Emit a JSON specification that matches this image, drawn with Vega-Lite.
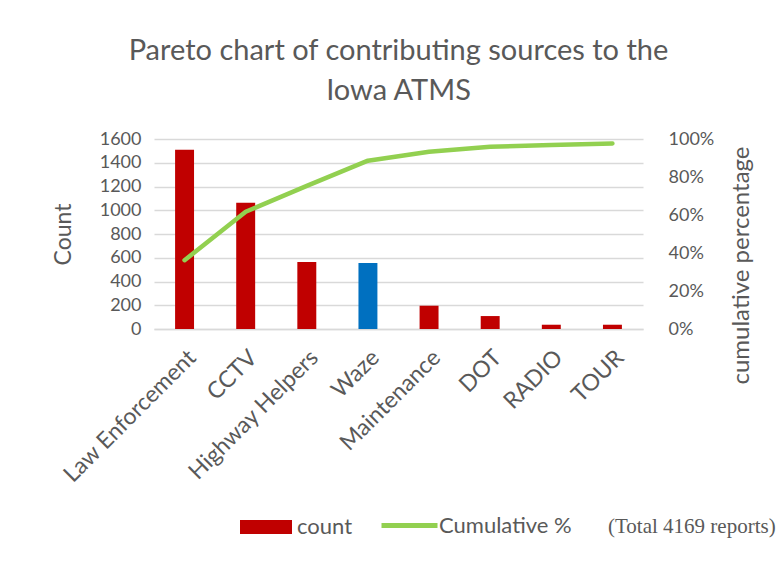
{
  "$schema": "https://vega.github.io/schema/vega-lite/v6.json",
  "width": 489,
  "height": 190,
  "autosize": {"type": "none"},
  "padding": {"left": 154, "top": 139, "right": 141, "bottom": 232},
  "background": "white",
  "title": {
    "text": ["Pareto chart of contributing sources to the", "Iowa ATMS"],
    "font": "Lato",
    "fontSize": 29,
    "fontWeight": "normal",
    "color": "#595959",
    "lineHeight": 40,
    "anchor": "middle",
    "offset": 24
  },
  "data": {
    "values": [
      {"source": "Law Enforcement", "count": 1510, "cum": 0.362, "series": "count", "line": "Cumulative %"},
      {"source": "CCTV", "count": 1064, "cum": 0.617, "series": "count", "line": "Cumulative %"},
      {"source": "Highway Helpers", "count": 564, "cum": 0.753, "series": "count", "line": "Cumulative %"},
      {"source": "Waze", "count": 556, "cum": 0.886, "series": "count", "line": "Cumulative %"},
      {"source": "Maintenance", "count": 196, "cum": 0.933, "series": "count", "line": "Cumulative %"},
      {"source": "DOT", "count": 109, "cum": 0.959, "series": "count", "line": "Cumulative %"},
      {"source": "RADIO", "count": 36, "cum": 0.968, "series": "count", "line": "Cumulative %"},
      {"source": "TOUR", "count": 36, "cum": 0.976, "series": "count", "line": "Cumulative %"}
    ]
  },
  "encoding": {
    "x": {
      "field": "source",
      "type": "nominal",
      "sort": null,
      "scale": {"paddingInner": 0.69, "paddingOuter": 0.345},
      "axis": {
        "title": null,
        "labelAngle": -45,
        "labelAlign": "right",
        "labelBaseline": "top",
        "labelPadding": 17,
        "labelFont": "Lato",
        "labelFontSize": 23,
        "labelColor": "#595959",
        "ticks": false,
        "domainColor": "#D9D9D9",
        "domainWidth": 1.5
      }
    }
  },
  "layer": [
    {
      "mark": {"type": "bar"},
      "encoding": {
        "y": {
          "field": "count",
          "type": "quantitative",
          "scale": {"domain": [0, 1600], "nice": false},
          "axis": {
            "title": "Count",
            "titleFont": "Lato",
            "titleFontSize": 23,
            "titleFontWeight": "normal",
            "titleColor": "#595959",
            "titlePadding": 24,
            "values": [0, 200, 400, 600, 800, 1000, 1200, 1400, 1600],
            "format": "d",
            "labelFont": "Lato",
            "labelFontSize": 18,
            "labelColor": "#595959",
            "labelPadding": 13,
            "ticks": false,
            "domain": false,
            "grid": true,
            "gridColor": "#D9D9D9",
            "gridWidth": 1.5
          }
        },
        "fill": {
          "field": "series",
          "type": "nominal",
          "condition": {"test": "datum.source === 'Waze'", "value": "#0070C0"},
          "scale": {"domain": ["count"], "range": ["#C00000"]},
          "legend": {
            "orient": "none",
            "legendX": 86,
            "legendY": 362,
            "title": null,
            "symbolType": "M-1,-0.27H1V0.27H-1Z",
            "symbolSize": 2704,
            "symbolStrokeWidth": 0,
            "labelFont": "Lato",
            "labelFontSize": 22,
            "labelColor": "#595959",
            "labelOffset": 5
          }
        }
      }
    },
    {
      "mark": {"type": "line", "strokeWidth": 4.5, "strokeCap": "round", "strokeJoin": "round"},
      "encoding": {
        "y": {
          "field": "cum",
          "type": "quantitative",
          "scale": {"domain": [0, 1], "nice": false},
          "axis": {
            "orient": "right",
            "title": "cumulative percentage",
            "titleAngle": 270,
            "titleBaseline": "top",
            "titleY": 126,
            "titleFont": "Lato",
            "titleFontSize": 24,
            "titleFontWeight": "normal",
            "titleColor": "#595959",
            "titlePadding": 16,
            "values": [0, 0.2, 0.4, 0.6, 0.8, 1],
            "format": ".0%",
            "labelFont": "Lato",
            "labelFontSize": 18,
            "labelColor": "#595959",
            "labelPadding": 25,
            "ticks": false,
            "domain": false,
            "grid": false
          }
        },
        "stroke": {
          "field": "line",
          "type": "nominal",
          "scale": {"domain": ["Cumulative %"], "range": ["#92D050"]},
          "legend": {
            "orient": "none",
            "legendX": 225,
            "legendY": 356,
            "title": "(Total 4169 reports)",
            "titleOrient": "right",
            "titleFont": "Liberation Serif",
            "titleFontSize": 21,
            "titleFontWeight": "normal",
            "titleColor": "#595959",
            "titlePadding": 36,
            "titleBaseline": "top",
            "symbolType": "stroke",
            "symbolSize": 3136,
            "symbolStrokeWidth": 5,
            "labelFont": "Lato",
            "labelFontSize": 22,
            "labelColor": "#595959",
            "labelOffset": -1
          }
        }
      }
    }
  ],
  "resolve": {"scale": {"y": "independent"}},
  "config": {
    "view": {"stroke": null},
    "font": "Lato"
  }
}
